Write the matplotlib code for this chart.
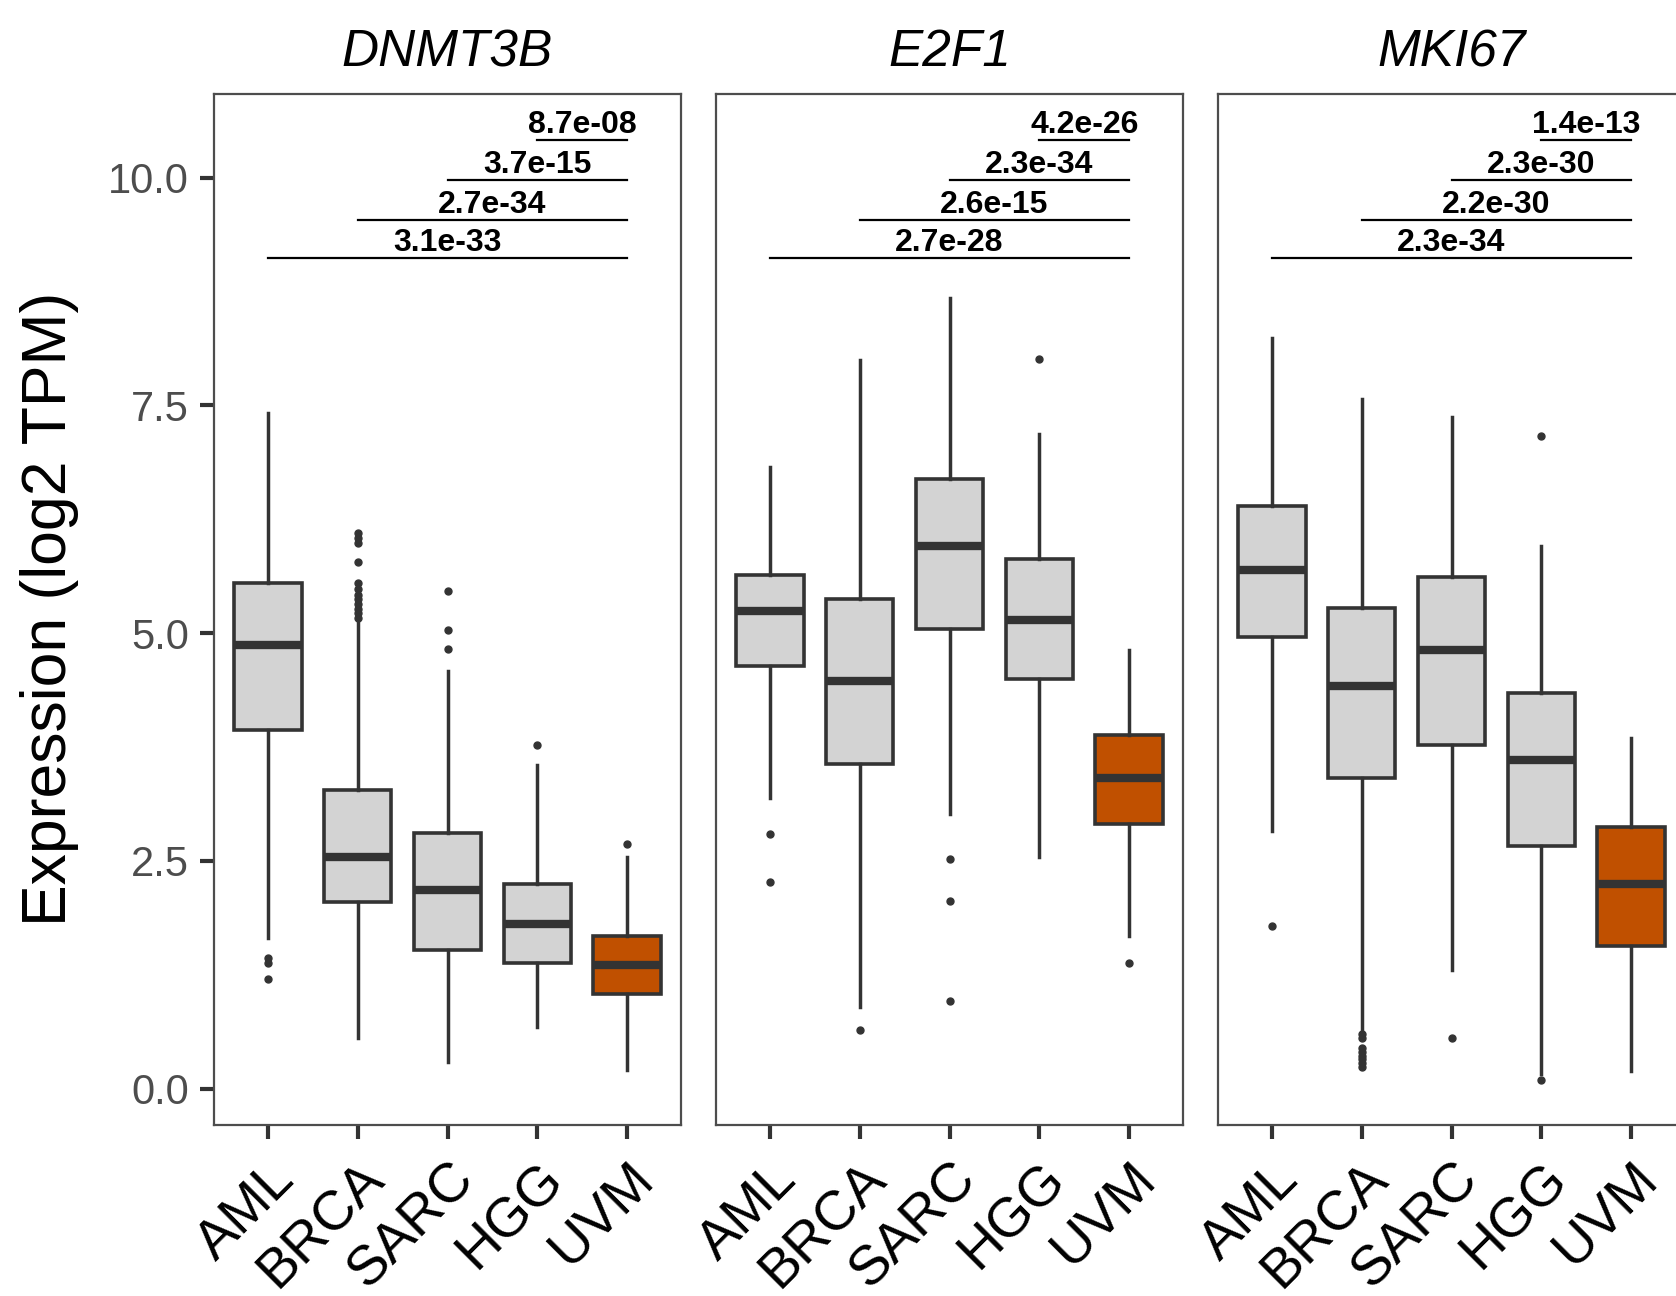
import matplotlib.pyplot as plt
from matplotlib.lines import Line2D

plt.rcParams['font.family'] = ['Liberation Sans', 'DejaVu Sans']

# Dados
groups = ["AML", "BRCA", "SARC", "HGG", "UVM"]
genes = ["DNMT3B", "E2F1", "MKI67"]

# whisker low, Q1, median, Q3, whisker high per group
whislo = {
    "DNMT3B": [1.65, 0.56, 0.29, 0.68, 0.20],
    "E2F1": [3.19, 0.90, 3.01, 2.54, 1.68],
    "MKI67": [2.83, 0.63, 1.30, 0.16, 0.19],
}
q1 = {
    "DNMT3B": [3.94, 2.05, 1.52, 1.38, 1.04],
    "E2F1": [4.64, 3.56, 5.05, 4.50, 2.90],
    "MKI67": [4.96, 3.41, 3.77, 2.66, 1.56],
}
med = {
    "DNMT3B": [4.87, 2.54, 2.18, 1.81, 1.36],
    "E2F1": [5.24, 4.48, 5.96, 5.15, 3.41],
    "MKI67": [5.69, 4.42, 4.82, 3.61, 2.25],
}
q3 = {
    "DNMT3B": [5.55, 3.28, 2.81, 2.25, 1.68],
    "E2F1": [5.64, 5.38, 6.69, 5.81, 3.88],
    "MKI67": [6.40, 5.28, 5.62, 4.34, 2.87],
}
whishi = {
    "DNMT3B": [7.42, 5.11, 4.58, 3.55, 2.54],
    "E2F1": [6.82, 8.00, 8.68, 7.19, 4.81],
    "MKI67": [8.24, 7.57, 7.37, 5.96, 3.85],
}
outliers = {
    "DNMT3B": [[1.43, 1.38, 1.20],
               [6.10, 6.05, 5.99, 5.78, 5.55, 5.48, 5.42, 5.37, 5.32, 5.27, 5.22, 5.17],
               [5.46, 5.03, 4.83],
               [3.77],
               [2.68]],
    "E2F1": [[2.79, 2.27],
             [0.64],
             [2.52, 2.06, 0.96],
             [8.01],
             [1.38]],
    "MKI67": [[1.79],
              [0.60, 0.56, 0.44, 0.40, 0.36, 0.32, 0.28, 0.24],
              [0.56],
              [7.16, 0.09],
              []],
}

# comparacoes contra UVM: grupo inicial e p-valor
comp_start = [1, 2, 3, 4]
bracket_y = [9.12, 9.54, 9.98, 10.41]
pvals = {
    "DNMT3B": ["3.1e-33", "2.7e-34", "3.7e-15", "8.7e-08"],
    "E2F1": ["2.7e-28", "2.6e-15", "2.3e-34", "4.2e-26"],
    "MKI67": ["2.3e-34", "2.2e-30", "2.3e-30", "1.4e-13"],
}

fill_grey = "#D3D3D3"
fill_uvm = "#C05000"
edge = "#333333"
frame = "#4D4D4D"

fig = plt.figure(figsize=(16.76, 12.96), dpi=100)
lefts = [214, 716, 1218]
W, H = 1676, 1296
ax_w = 467 / W
ax_b = 1 - 1125 / H
ax_h = (1125 - 94) / H

pos = [1, 2, 3, 4, 5]
for k, gene in enumerate(genes):
    ax = fig.add_axes([lefts[k] / W, ax_b, ax_w, ax_h])
    stats = []
    for i in range(5):
        stats.append({
            "whislo": whislo[gene][i], "q1": q1[gene][i], "med": med[gene][i],
            "q3": q3[gene][i], "whishi": whishi[gene][i], "fliers": outliers[gene][i],
        })
    bp = ax.bxp(stats, positions=pos, widths=0.75, patch_artist=True, showcaps=False,
                boxprops=dict(edgecolor=edge, linewidth=2.6),
                whiskerprops=dict(color=edge, linewidth=2.5),
                medianprops=dict(color=edge, linewidth=6, solid_capstyle='butt'),
                flierprops=dict(marker='o', markersize=5, markerfacecolor=edge,
                                markeredgecolor=edge, linestyle='none'))
    for i, b in enumerate(bp['boxes']):
        b.set_facecolor(fill_uvm if groups[i] == "UVM" else fill_grey)

    # barras de comparacao
    for s, y, p in zip(comp_start, bracket_y, pvals[gene]):
        ax.add_line(Line2D([s, 5], [y, y], color='black', linewidth=1.6))
        ax.text((s + 5) / 2, y, p, ha='center', va='bottom', fontsize=23,
                fontweight='bold', color='black')

    ax.set_xlim(0.4, 5.6)
    ax.set_ylim(-0.4, 10.92)
    ax.set_xticks(pos)
    ax.set_xticklabels(groups, rotation=45, ha='right', va='top',
                       rotation_mode='anchor', fontsize=40, color='black')
    ax.set_yticks([0, 2.5, 5, 7.5, 10])
    if k == 0:
        ax.set_yticklabels(["0.0", "2.5", "5.0", "7.5", "10.0"], fontsize=30, color=frame)
    else:
        ax.tick_params(axis='y', left=False, labelleft=False)
    ax.tick_params(axis='both', length=10, width=3, color=edge, pad=8)
    ax.tick_params(axis='x', pad=10)
    for sp in ax.spines.values():
        sp.set_color(frame)
        sp.set_linewidth(1.6)
    ax.set_title(gene, fontsize=37, style='italic', pad=20)

fig.text(50 / W, 1 - 609 / H, "Expression (log2 TPM)", rotation=90,
         ha='center', va='center', fontsize=45)

fig.savefig("out.png", dpi=100)
